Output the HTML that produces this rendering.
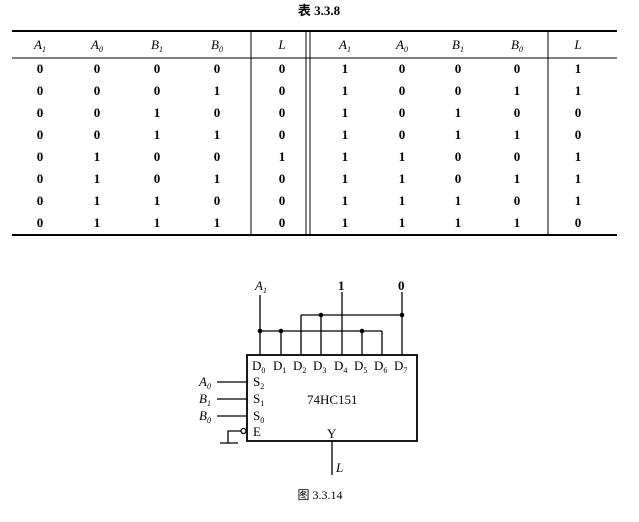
<!DOCTYPE html>
<html><head><meta charset="utf-8"><style>body{margin:0;background:#fff}svg{display:block}</style></head><body>
<svg width="639" height="522" xmlns="http://www.w3.org/2000/svg" font-family="'Liberation Serif','Noto Serif CJK SC',serif">
<rect width="639" height="522" fill="#fff"/>
<text x="319" y="15" font-size="13" font-weight="bold" text-anchor="middle" font-family="'Liberation Serif','Noto Sans CJK SC',serif">表 3.3.8</text>
<g stroke="#000" fill="none">
<line x1="12" y1="31" x2="617" y2="31" stroke-width="2"/>
<line x1="12" y1="58" x2="617" y2="58" stroke-width="1"/>
<line x1="12" y1="235" x2="617" y2="235" stroke-width="2"/>
<line x1="251" y1="31" x2="251" y2="235"/>
<line x1="306" y1="31" x2="306" y2="235"/>
<line x1="310" y1="31" x2="310" y2="235"/>
<line x1="548" y1="31" x2="548" y2="235"/>
</g>
<g font-size="13" font-style="italic" text-anchor="middle">
<text x="40" y="49">A<tspan font-size="8" dy="3">1</tspan></text>
<text x="97" y="49">A<tspan font-size="8" dy="3">0</tspan></text>
<text x="157" y="49">B<tspan font-size="8" dy="3">1</tspan></text>
<text x="217" y="49">B<tspan font-size="8" dy="3">0</tspan></text>
<text x="282" y="49">L</text>
<text x="345" y="49">A<tspan font-size="8" dy="3">1</tspan></text>
<text x="402" y="49">A<tspan font-size="8" dy="3">0</tspan></text>
<text x="458" y="49">B<tspan font-size="8" dy="3">1</tspan></text>
<text x="517" y="49">B<tspan font-size="8" dy="3">0</tspan></text>
<text x="578" y="49">L</text>
</g>
<g font-size="13" font-weight="bold" text-anchor="middle" id="rows"></g>
<script>
var d=[[0,0,0,0,0,1,0,0,0,1],[0,0,0,1,0,1,0,0,1,1],[0,0,1,0,0,1,0,1,0,0],[0,0,1,1,0,1,0,1,1,0],[0,1,0,0,1,1,1,0,0,1],[0,1,0,1,0,1,1,0,1,1],[0,1,1,0,0,1,1,1,0,1],[0,1,1,1,0,1,1,1,1,0]];
var xs=[40,97,157,217,282,345,402,458,517,578];var g=document.getElementById('rows');
d.forEach(function(r,i){r.forEach(function(v,j){var t=document.createElementNS('http://www.w3.org/2000/svg','text');t.setAttribute('x',xs[j]);t.setAttribute('y',73+i*22);t.textContent=v;g.appendChild(t);});});
</script>
<g stroke="#000" stroke-width="1.3" fill="none">
<rect x="247" y="355" width="170" height="86" stroke-width="1.8"/>
<line x1="260" y1="295" x2="260" y2="355"/>
<line x1="260" y1="331" x2="382" y2="331"/>
<line x1="281" y1="331" x2="281" y2="355"/>
<line x1="362" y1="331" x2="362" y2="355"/>
<line x1="382" y1="331" x2="382" y2="355"/>
<line x1="301" y1="315" x2="402" y2="315"/>
<line x1="301" y1="315" x2="301" y2="355"/>
<line x1="321" y1="315" x2="321" y2="355"/>
<line x1="342" y1="292" x2="342" y2="355"/>
<line x1="402" y1="292" x2="402" y2="355"/>
<line x1="217" y1="382" x2="247" y2="382"/>
<line x1="217" y1="399" x2="247" y2="399"/>
<line x1="217" y1="416" x2="247" y2="416"/>
<circle cx="243.5" cy="431" r="2.5"/>
<polyline points="241,431 228,431 228,443"/>
<line x1="220" y1="443" x2="238" y2="443"/>
<line x1="332" y1="441" x2="332" y2="475"/>
</g>
<g fill="#000"><circle cx="260" cy="331" r="2.3"/><circle cx="281" cy="331" r="2.3"/><circle cx="362" cy="331" r="2.3"/><circle cx="321" cy="315" r="2.3"/><circle cx="402" cy="315" r="2.3"/></g>
<g font-size="13">
<text x="255" y="290" font-style="italic">A<tspan font-size="8" dy="3">1</tspan></text>
<text x="338" y="290" font-weight="bold">1</text>
<text x="398" y="290" font-weight="bold">0</text>
<text x="252" y="370">D<tspan font-size="8" dy="3">0</tspan></text>
<text x="273" y="370">D<tspan font-size="8" dy="3">1</tspan></text>
<text x="293" y="370">D<tspan font-size="8" dy="3">2</tspan></text>
<text x="313" y="370">D<tspan font-size="8" dy="3">3</tspan></text>
<text x="334" y="370">D<tspan font-size="8" dy="3">4</tspan></text>
<text x="354" y="370">D<tspan font-size="8" dy="3">5</tspan></text>
<text x="374" y="370">D<tspan font-size="8" dy="3">6</tspan></text>
<text x="394" y="370">D<tspan font-size="8" dy="3">7</tspan></text>
<text x="253" y="386">S<tspan font-size="8" dy="3">2</tspan></text>
<text x="253" y="403">S<tspan font-size="8" dy="3">1</tspan></text>
<text x="253" y="420">S<tspan font-size="8" dy="3">0</tspan></text>
<text x="253" y="436">E</text>
<text x="307" y="404">74HC151</text>
<text x="327" y="438">Y</text>
<g font-style="italic"><text x="199" y="386">A<tspan font-size="8" dy="3">0</tspan></text>
<text x="199" y="403">B<tspan font-size="8" dy="3">1</tspan></text>
<text x="199" y="420">B<tspan font-size="8" dy="3">0</tspan></text>
<text x="336" y="472">L</text></g>
</g>
<text x="320" y="499" font-size="12" text-anchor="middle" font-family="'Liberation Serif','Noto Sans CJK SC',serif">图 3.3.14</text>
</svg>
</body></html>
